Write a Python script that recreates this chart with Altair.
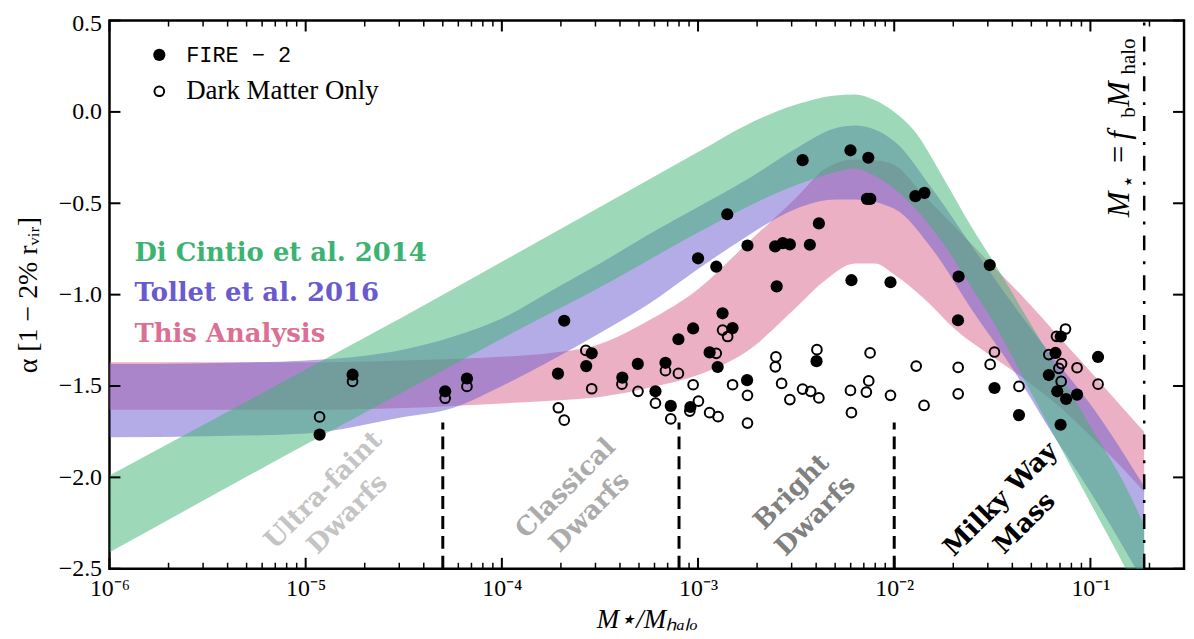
import altair as alt
import pandas as pd

# ---------------- axes ----------------
XMIN, XMAX = 1e-6, 0.3
YMIN, YMAX = -2.5, 0.5
W, H = 1080, 551
FB = 0.188  # M* = f_b M_halo

major_x = [1e-6, 1e-5, 1e-4, 1e-3, 1e-2, 1e-1]
minor_x = [m * 10.0 ** k for k in range(-6, 0) for m in range(2, 10) if m * 10.0 ** k < XMAX]
major_y = [-2.5, -2.0, -1.5, -1.0, -0.5, 0.0, 0.5]

# ---------------- bands: log10(M*/Mhalo), lower, upper ----------------
dc_logx = [-6, -5, -4.5, -4, -3.5, -3.0, -2.75, -2.5, -2.3, -2.2, -2.1, -2.0, -1.9, -1.75, -1.6, -1.5, -1.31, -1.0, -0.83, -0.726]
dc_lo = [-2.41, -1.82, -1.53, -1.24, -0.96, -0.66, -0.52, -0.40, -0.33, -0.31, -0.35, -0.42, -0.52, -0.72, -0.97, -1.14, -1.52, -2.14, -2.48, -2.70]
dc_hi = [-1.99, -1.41, -1.12, -0.82, -0.52, -0.22, -0.07, 0.04, 0.09, 0.095, 0.065, 0.0, -0.10, -0.36, -0.64, -0.81, -1.15, -1.72, -2.03, -2.26]

to_logx = [-6, -5.5, -5, -4.5, -4.25, -4.0, -3.75, -3.5, -3.25, -3.0, -2.75, -2.5, -2.3, -2.2, -2.0, -1.8, -1.6, -1.4, -1.2, -1.0, -0.726]
to_lo = [-1.78, -1.775, -1.76, -1.67, -1.62, -1.50, -1.36, -1.21, -1.05, -0.86, -0.68, -0.53, -0.48, -0.48, -0.53, -0.76, -1.09, -1.40, -1.75, -2.08, -2.58]
to_hi = [-1.38, -1.375, -1.36, -1.30, -1.23, -1.13, -0.98, -0.83, -0.67, -0.52, -0.37, -0.20, -0.09, -0.075, -0.16, -0.43, -0.74, -1.045, -1.33, -1.60, -2.05]

ta_logx = [-6, -5, -4.5, -4.0, -3.75, -3.5, -3.25, -3.0, -2.75, -2.5, -2.35, -2.2, -2.1, -2.0, -1.85, -1.69, -1.5, -1.35, -1.14, -0.975, -0.81, -0.726]
ta_lo = [-1.63, -1.63, -1.62, -1.595, -1.58, -1.56, -1.51, -1.44, -1.31, -1.07, -0.92, -0.83, -0.83, -0.89, -1.02, -1.19, -1.34, -1.45, -1.63, -1.80, -1.98, -2.08]
ta_hi = [-1.37, -1.37, -1.36, -1.34, -1.32, -1.27, -1.14, -0.97, -0.72, -0.47, -0.31, -0.26, -0.265, -0.29, -0.455, -0.63, -0.84, -1.005, -1.255, -1.45, -1.65, -1.75]

# ---------------- simulated haloes: log10(M*/Mhalo), alpha ----------------
fire_logx = [-4.929, -4.761, -4.289, -4.178, -3.682, -3.714, -3.542, -3.570, -3.386, -3.307,
             -3.217, -3.166, -3.139, -3.100, -3.025, -3.039, -3.000, -2.941, -2.900, -2.907,
             -2.875, -2.824, -2.851, -2.748, -2.750, -2.607, -2.568, -2.532, -2.599, -2.467,
             -2.430, -2.384, -2.396, -2.223, -2.218, -2.132, -2.139, -2.122, -2.019, -1.892,
             -1.846, -1.672, -1.675, -1.513, -1.489, -1.364, -1.151, -1.178, -1.212, -1.169,
             -1.124, -1.068, -1.152, -0.961]
fire_alpha = [-1.766, -1.438, -1.529, -1.459, -1.143, -1.432, -1.321, -1.391, -1.454, -1.379,
              -1.529, -1.373, -1.609, -1.244, -1.185, -1.615, -0.801, -1.316, -1.396, -0.847,
              -1.102, -1.183, -0.560, -0.731, -1.468, -0.736, -0.718, -0.725, -0.955, -0.264,
              -0.727, -0.610, -1.364, -0.210, -0.921, -0.251, -0.476, -0.476, -0.932, -0.461,
              -0.443, -0.901, -1.140, -0.838, -1.511, -1.659, -1.229, -1.319, -1.440, -1.529,
              -1.571, -1.547, -1.712, -1.341]

dmo_logx = [-4.929, -4.761, -4.289, -4.178, -3.572, -3.542, -3.712, -3.682, -3.388, -3.306,
            -3.166, -3.100, -3.217, -3.139, -3.025, -2.998, -3.042, -2.941, -2.898, -2.907,
            -2.875, -2.849, -2.824, -2.748, -2.748, -2.603, -2.606, -2.574, -2.532, -2.467,
            -2.426, -2.384, -2.394, -2.223, -2.218, -2.142, -2.130, -2.123, -2.019, -1.888,
            -1.848, -1.674, -1.674, -1.511, -1.489, -1.364, -1.173, -1.127, -1.212, -1.147,
            -1.161, -1.149, -1.068, -0.961]
dmo_alpha = [-1.669, -1.475, -1.567, -1.502, -1.305, -1.515, -1.619, -1.687, -1.490, -1.529,
             -1.416, -1.431, -1.594, -1.680, -1.493, -1.583, -1.637, -1.646, -1.668, -1.321,
             -1.194, -1.229, -1.493, -1.551, -1.703, -1.341, -1.395, -1.486, -1.574, -1.517,
             -1.529, -1.565, -1.301, -1.524, -1.646, -1.533, -1.472, -1.319, -1.551, -1.391,
             -1.606, -1.398, -1.543, -1.382, -1.314, -1.502, -1.228, -1.188, -1.328, -1.377,
             -1.403, -1.475, -1.400, -1.490]

# ---------------- annotations ----------------
band_names = ["Di Cintio et al. 2014", "Tollet et al. 2016", "This Analysis"]
band_colors = ["#3cb371", "#6a5acd", "#db7093"]
band_label_logx = [-5.873, -5.873, -5.873]
band_label_alpha = [-0.77, -0.99, -1.215]

region_text = ["Ultra-faint\nDwarfs", "Classical\nDwarfs", "Bright\nDwarfs", "Milky Way\nMass"]
region_colors = ["#c4c4c4", "#ababab", "#808080", "#000000"]
region_logx = [-4.909, -3.675, -2.523, -1.457]
region_alpha = [-2.07, -2.06, -2.08, -2.12]

divider_x = [5e-5, 8e-4, 1e-2]
divider_top = -1.70

legend_text = ["FIRE − 2", "Dark Matter Only"]
legend_logx_sym = -5.746
legend_logx_txt = -5.609
legend_alpha = [0.312, 0.113]

ann_big_italic = ["M", "f", "M"]
ann_big_italic_alpha = [-0.576, -0.151, 0.027]
ann_big_upright = ["="]
ann_big_upright_alpha = [-0.28]
ann_sub = ["⋆", "b", "halo"]
ann_sub_alpha = [-0.415, -0.032, 0.205]
ann_logx = -0.802
ann_sub_logx = -0.772

# ---------------- frames ----------------
def band_df(lx, lo, hi):
    return pd.DataFrame({"x": [10 ** v for v in lx], "lo": lo, "hi": hi})

dc_df = band_df(dc_logx, dc_lo, dc_hi)
to_df = band_df(to_logx, to_lo, to_hi)
ta_df = band_df(ta_logx, ta_lo, ta_hi)
fire_df = pd.DataFrame({"x": [10 ** v for v in fire_logx], "a": fire_alpha})
dmo_df = pd.DataFrame({"x": [10 ** v for v in dmo_logx], "a": dmo_alpha})

xs = alt.Scale(type="log", domain=[XMIN, XMAX], nice=False)
ys = alt.Scale(domain=[YMIN, YMAX], nice=False, zero=False)

SERIF = "Liberation Serif"
BOLD = "DejaVu Serif"

xlab = ("datum.value < 3e-6 ? '10⁻⁶' : datum.value < 3e-5 ? '10⁻⁵' : "
        "datum.value < 3e-4 ? '10⁻⁴' : datum.value < 3e-3 ? '10⁻³' : "
        "datum.value < 3e-2 ? '10⁻²' : '10⁻¹'")

x_axis = alt.Axis(values=major_x, labelExpr=xlab, ticks=False, domain=False, grid=False,
                  labelFont=SERIF, labelFontSize=24, labelColor="black", labelPadding=8,
                  labelFlush=False, labelOverlap=False,
                  title="M⋆/Mₕₐₗₒ", titleFont=SERIF, titleFontSize=27, titleFontStyle="italic",
                  titleFontWeight="normal", titleColor="black", titlePadding=6)
y_axis = alt.Axis(values=major_y, labelExpr="replace(format(datum.value, '.1f'), '-', '−')",
                  ticks=False, domain=False, grid=False,
                  labelFont=SERIF, labelFontSize=24, labelColor="black", labelPadding=8,
                  labelOffset={"condition": {"test": "datum.value > 0.4", "value": 3}, "value": 0},
                  labelFlush=False, labelOverlap=False,
                  title="α [1 − 2% rᵥᵢᵣ]", titleFont=SERIF, titleFontSize=28,
                  titleFontWeight="normal", titleColor="black", titlePadding=16)


def X(f="x"):
    return alt.X(f"{f}:Q", scale=xs, axis=x_axis, title="M⋆/Mₕₐₗₒ")


def Y(f="a"):
    return alt.Y(f"{f}:Q", scale=ys, axis=y_axis, title="α [1 − 2% rᵥᵢᵣ]")


pink = alt.Chart(ta_df).mark_area(color="#db7093", opacity=0.55, clip=True, interpolate="monotone").encode(
    x=X(), y=Y("lo"), y2="hi:Q")
purple = alt.Chart(to_df).mark_area(color="#6a5acd", opacity=0.5, clip=True, interpolate="monotone").encode(
    x=X(), y=Y("lo"), y2="hi:Q")
green = alt.Chart(dc_df).mark_area(color="#3cb371", opacity=0.5, clip=True, interpolate="monotone").encode(
    x=X(), y=Y("lo"), y2="hi:Q")

div_df = pd.DataFrame({"x": divider_x, "y0": [YMIN] * 3, "y1": [divider_top] * 3})
dividers = alt.Chart(div_df).mark_rule(color="black", strokeWidth=3, strokeDash=[13, 7]).encode(
    x=X(), y=Y("y0"), y2="y1:Q")
fb_df = pd.DataFrame({"x": [FB], "y0": [YMIN], "y1": [YMAX]})
fbline = alt.Chart(fb_df).mark_rule(color="black", strokeWidth=2.5, strokeDash=[15, 11, 3, 11]).encode(
    x=X(), y=Y("y0"), y2="y1:Q")

open_pts = alt.Chart(dmo_df).mark_point(shape="circle", filled=False, color="black", strokeWidth=2,
                                        size=95, opacity=1).encode(x=X(), y=Y())
fill_pts = alt.Chart(fire_df).mark_circle(color="black", size=150, opacity=1).encode(x=X(), y=Y())

reg_df = pd.DataFrame({"t": region_text, "c": region_colors,
                       "x": [10 ** v for v in region_logx], "a": region_alpha})
regions = alt.Chart(reg_df).mark_text(angle=315, lineBreak="\n", font=BOLD, fontWeight="bold",
                                      fontSize=26, lineHeight=34, align="center",
                                      baseline="middle").encode(
    x=X(), y=Y(), text="t:N", color=alt.Color("c:N", scale=None))

bl_df = pd.DataFrame({"t": band_names, "c": band_colors,
                      "x": [10 ** v for v in band_label_logx], "a": band_label_alpha})
band_labels = alt.Chart(bl_df).mark_text(font=BOLD, fontWeight="bold", fontSize=26, align="left",
                                         baseline="middle").encode(
    x=X(), y=Y(), text="t:N", color=alt.Color("c:N", scale=None))

leg_fill = alt.Chart(pd.DataFrame({"x": [10 ** legend_logx_sym], "a": [legend_alpha[0]]})).mark_circle(
    color="black", size=150, opacity=1).encode(x=X(), y=Y())
leg_open = alt.Chart(pd.DataFrame({"x": [10 ** legend_logx_sym], "a": [legend_alpha[1]]})).mark_point(
    shape="circle", filled=False, color="black", strokeWidth=2, size=95, opacity=1).encode(x=X(), y=Y())
leg_t1 = alt.Chart(pd.DataFrame({"t": [legend_text[0]], "x": [10 ** legend_logx_txt], "a": [legend_alpha[0]]})).mark_text(
    font="Liberation Mono", fontSize=22, align="left", baseline="middle", color="black").encode(
    x=X(), y=Y(), text="t:N")
leg_t2 = alt.Chart(pd.DataFrame({"t": [legend_text[1]], "x": [10 ** legend_logx_txt], "a": [legend_alpha[1]]})).mark_text(
    font=SERIF, fontSize=27, align="left", baseline="middle", color="black").encode(
    x=X(), y=Y(), text="t:N")

ann1 = alt.Chart(pd.DataFrame({"t": ann_big_italic, "x": [10 ** ann_logx] * 3, "a": ann_big_italic_alpha})).mark_text(
    font=SERIF, fontStyle="italic", fontSize=31, angle=270, align="left", baseline="alphabetic",
    color="black").encode(x=X(), y=Y(), text="t:N")
ann2 = alt.Chart(pd.DataFrame({"t": ann_big_upright, "x": [10 ** ann_logx], "a": ann_big_upright_alpha})).mark_text(
    font=SERIF, fontSize=31, angle=270, align="left", baseline="alphabetic",
    color="black").encode(x=X(), y=Y(), text="t:N")
ann3 = alt.Chart(pd.DataFrame({"t": ann_sub, "x": [10 ** ann_sub_logx] * 3, "a": ann_sub_alpha})).mark_text(
    font=SERIF, fontSize=21, angle=270, align="left", baseline="alphabetic",
    color="black").encode(x=X(), y=Y(), text="t:N")

# tick marks drawn inward on all four sides
mx = pd.DataFrame({"x": major_x})
nx = pd.DataFrame({"x": minor_x})
my = pd.DataFrame({"a": major_y})
tk = dict(color="black", strokeWidth=2)
t_bot = alt.Chart(mx).mark_rule(**tk).encode(x=X(), y=alt.value(H), y2=alt.value(H - 11))
t_top = alt.Chart(mx).mark_rule(**tk).encode(x=X(), y=alt.value(0), y2=alt.value(11))
n_bot = alt.Chart(nx).mark_rule(color="black", strokeWidth=1.5).encode(x=X(), y=alt.value(H), y2=alt.value(H - 6))
n_top = alt.Chart(nx).mark_rule(color="black", strokeWidth=1.5).encode(x=X(), y=alt.value(0), y2=alt.value(6))
t_left = alt.Chart(my).mark_rule(**tk).encode(y=Y(), x=alt.value(0), x2=alt.value(11))
t_right = alt.Chart(my).mark_rule(**tk).encode(y=Y(), x=alt.value(W), x2=alt.value(W - 11))

chart = alt.layer(
    pink, purple, green, dividers, fbline, open_pts, fill_pts,
    regions, band_labels, leg_fill, leg_open, leg_t1, leg_t2, ann1, ann2, ann3,
    t_bot, t_top, n_bot, n_top, t_left, t_right
).properties(
    width=W, height=H,
    padding={"left": 102, "top": 11, "right": 2, "bottom": 69},
    autosize=alt.AutoSizeParams(type="none"),
    background="white",
).configure_view(stroke="black", strokeWidth=2.5)

chart.save("out.html", embed_options={"renderer": "svg", "actions": False})
